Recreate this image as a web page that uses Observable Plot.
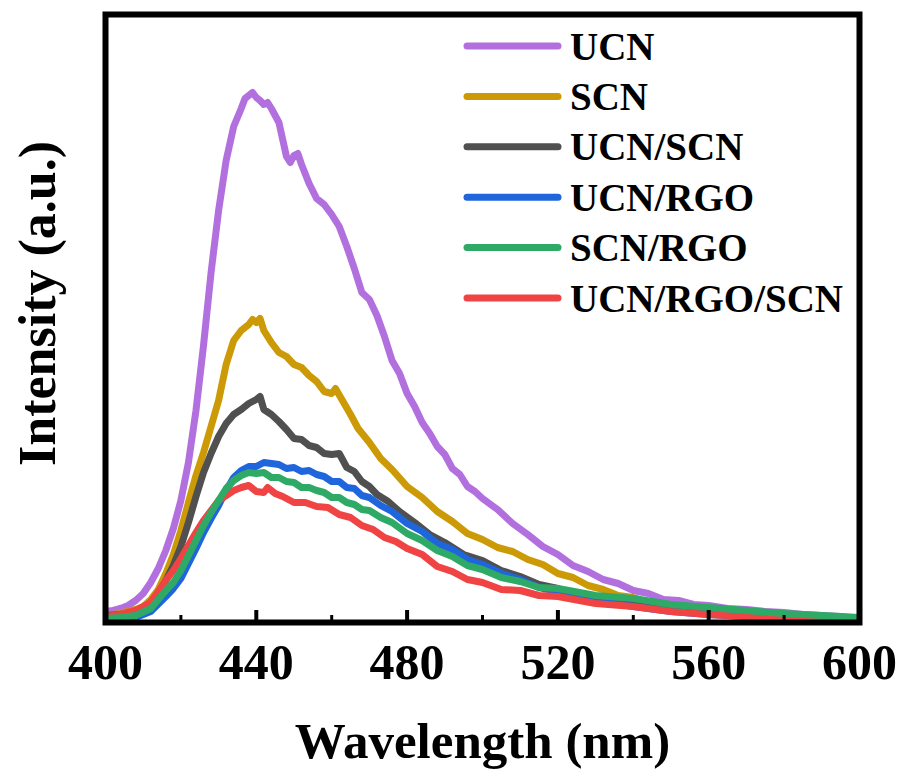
<!DOCTYPE html>
<html><head><meta charset="utf-8">
<script src="https://cdn.jsdelivr.net/npm/d3@7"></script>
<script src="https://cdn.jsdelivr.net/npm/@observablehq/plot@0.6"></script>
<style>body{margin:0;background:#fff} #chart{width:903px;height:773px}</style>
</head><body><div id="chart"></div>
<script>
const seriesNames = ["UCN", "SCN", "UCN/SCN", "UCN/RGO", "SCN/RGO", "UCN/RGO/SCN"];
const seriesColors = ["#B270DE", "#CC9A06", "#505050", "#1F66DD", "#2EAA66", "#F04444"];
const drawOrder = ["UCN", "SCN", "UCN/SCN", "UCN/RGO", "UCN/RGO/SCN", "SCN/RGO"];
const majorTicks = [400, 440, 480, 520, 560, 600];
const innerMajorTicks = [440, 480, 520, 560];
const minorTicks = [420, 460, 500, 540, 580];

const ucnWl = [400,402,404,406,408,410,412,414,416,418,420,422,424,426,428,430,432,434,436,437,438,439,440,441,442,443,444,446,448,449,450,451,452,454,456,458,460,462,464,466,468,470,472,474,476,478,480,482,484,486,488,490,492,494,496,498,500,504,508,512,516,520,524,528,532,536,540,544,548,552,556,560,565,570,575,580,585,590,595,600];
const ucnI = [11,12,14,17,22,29,40,54,72,94,122,160,212,277,350,412,462,496,514,524,527,530,525,522,518,520,514,500,466,460,467,469,458,439,424,418,408,396,376,354,330,323,307,286,262,249,229,216,200,189,176,168,154,148,136,131,124,113,99,88,76,68,57,51,43,39,32,29,23,22,18,17,14,13,11,10,8,7,6,4];

const scnWl = [400,404,408,410,412,414,416,418,420,422,424,426,428,430,432,434,436,438,439,440,441,442,444,446,448,450,452,454,456,458,460,461,463,465,467,470,473,476,480,484,488,492,496,500,504,508,512,516,520,524,528,532,536,540,544,548,552,556,560,570,580,590,600];
const scnI = [7,9,13,16,23,33,49,68,92,120,147,170,196,222,258,282,292,298,303,300,304,292,280,270,266,258,255,247,241,231,229,234,221,208,194,180,164,153,136,125,111,101,89,83,75,71,63,58,49,45,37,33,27,25,20,19,15,14,12,9,7,5,4];

const ucnScnWl = [400,404,408,410,412,414,416,418,420,422,424,426,428,430,432,434,436,438,440,441,442,444,446,448,450,452,454,456,458,460,462,464,466,468,470,472,475,478,482,486,490,495,500,505,510,515,520,525,530,540,550,560,570,580,590,600];
const ucnScnI = [7,8,11,14,20,29,42,57,76,100,126,150,169,186,199,208,213,219,223,226,213,208,201,193,184,183,177,175,169,168,169,155,151,141,136,128,121,111,100,88,80,68,62,52,46,38,34,27,24,18,14,11,9,7,5,3];

const ucnRgoWl = [400,404,408,412,416,418,420,422,424,426,428,430,432,434,436,438,440,442,444,446,448,450,452,454,456,458,460,462,464,466,468,470,473,476,480,484,488,492,496,500,505,510,515,520,530,540,550,560,570,580,590,600];
const ucnRgoI = [2,3,5,11,26,34,44,59,74,90,104,117,132,145,152,156,156,160,159,158,154,155,151,152,148,146,141,141,135,134,127,125,117,111,99,91,79,73,63,58,49,43,35,31,22,16,11,8,6,4,3,2];

const scnRgoWl = [400,404,408,412,416,418,420,422,424,426,428,430,432,434,436,438,440,442,444,446,448,450,452,454,456,458,460,462,464,466,468,470,473,476,480,484,488,492,496,500,505,510,515,520,530,540,550,560,570,580,590,600];
const scnRgoI = [4,5,7,14,32,40,52,67,82,97,110,122,134,142,147,150,149,150,145,145,141,140,135,135,132,130,125,125,120,118,113,112,105,100,89,82,72,66,57,53,45,41,35,34,27,24,18,15,12,9,7,5];

const triWl = [400,404,408,412,416,418,420,422,424,426,428,430,432,434,436,438,440,442,443,445,447,450,453,456,459,462,465,468,471,474,477,480,484,488,492,496,500,505,510,515,520,530,540,550,560,570,580,590,600];
const triI = [6,8,12,20,42,52,64,77,90,102,112,122,127,132,135,137,131,130,135,129,126,120,120,116,115,108,105,97,93,85,81,74,68,56,51,43,40,33,32,27,26,19,16,11,8,6,4,3,2];

const seriesWl = {"UCN": ucnWl, "SCN": scnWl, "UCN/SCN": ucnScnWl, "UCN/RGO": ucnRgoWl, "SCN/RGO": scnRgoWl, "UCN/RGO/SCN": triWl};
const seriesI = {"UCN": ucnI, "SCN": scnI, "UCN/SCN": ucnScnI, "UCN/RGO": ucnRgoI, "SCN/RGO": scnRgoI, "UCN/RGO/SCN": triI};

const rows = [];
for (const s of drawOrder) {
  seriesWl[s].forEach((w, i) => rows.push({series: s, wl: w, I: seriesI[s][i]}));
}

const font = "'Liberation Serif', 'Times New Roman', serif";

const plot = Plot.plot({
  width: 903,
  height: 773,
  marginLeft: 105,
  marginRight: 44,
  marginTop: 14,
  marginBottom: 151,
  style: {fontFamily: font, fontWeight: "bold", background: "#fff", color: "#000"},
  x: {domain: [400, 600]},
  y: {domain: [0, 608], axis: null},
  color: {domain: seriesNames, range: seriesColors},
  marks: [
    Plot.line(rows, {x: "wl", y: "I", z: "series", stroke: "series", strokeWidth: 7, strokeLinejoin: "round", strokeLinecap: "round", clip: true}),
    Plot.ruleX(innerMajorTicks, {x: d => d, y1: 0, y2: 12, strokeWidth: 4, stroke: "#000"}),
    Plot.ruleX(minorTicks, {x: d => d, y1: 0, y2: 7, strokeWidth: 3, stroke: "#000"}),
    Plot.frame({stroke: "#000", strokeWidth: 6}),
    Plot.axisX(majorTicks, {tickSize: 0, tickPadding: 21, fontSize: 50, fontWeight: "bold", label: null, tickFormat: d => String(d)}),
    Plot.text(["Wavelength (nm)"], {text: d => d, frameAnchor: "bottom", lineAnchor: "middle", textAnchor: "middle", dy: 119, fontSize: 51, fontWeight: "bold"}),
    Plot.text(["Intensity (a.u.)"], {text: d => d, frameAnchor: "left", textAnchor: "middle", lineAnchor: "middle", rotate: -90, dx: -67, dy: -15, fontSize: 52, fontWeight: "bold"})
  ]
});

const svg = d3.select(plot);
const lg = svg.append("g").attr("class", "legend").attr("text-anchor", "start");
seriesNames.forEach((n, i) => {
  const y = 46 + i * 50.4;
  lg.append("line").attr("x1", 467).attr("x2", 558).attr("y1", y).attr("y2", y)
    .attr("stroke", seriesColors[i]).attr("stroke-width", 7).attr("stroke-linecap", "round");
  lg.append("text").attr("x", 570).attr("y", y).attr("dy", "0.35em").attr("text-anchor", "start")
    .attr("font-size", 39).attr("font-weight", "bold").attr("font-family", font).attr("fill", "#000").text(n);
});

document.getElementById("chart").appendChild(plot);
</script>
</body></html>
